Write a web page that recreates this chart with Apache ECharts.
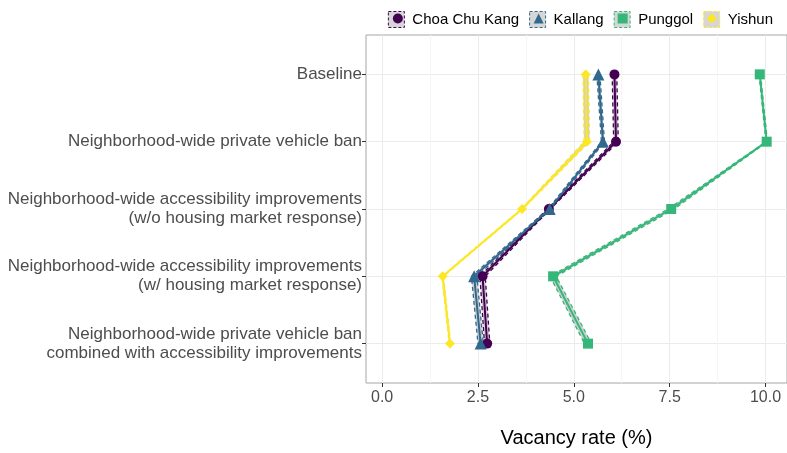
<!DOCTYPE html>
<html>
<head>
<meta charset="utf-8">
<script src="https://cdn.jsdelivr.net/npm/echarts@6/dist/echarts.min.js"></script>
<style>
  html, body { margin: 0; padding: 0; background: #ffffff; }
  #chart { width: 787px; height: 453px; }
</style>
</head>
<body>
<div id="chart"></div>
<script>
// Scenarios, top to bottom
const categories = [
  'Baseline',
  'Neighborhood-wide private vehicle ban',
  'Neighborhood-wide accessibility improvements\n(w/o housing market response)',
  'Neighborhood-wide accessibility improvements\n(w/ housing market response)',
  'Neighborhood-wide private vehicle ban\ncombined with accessibility improvements'
];

const towns = ['Choa Chu Kang', 'Kallang', 'Punggol', 'Yishun'];

// Vacancy rate (%) per scenario
const choaChuKang = [6.06, 6.10, 4.35, 2.62, 2.74];
const kallang     = [5.64, 5.76, 4.37, 2.40, 2.57];
const punggol     = [9.85, 10.03, 7.54, 4.46, 5.37];
const yishun      = [5.31, 5.34, 3.65, 1.58, 1.77];

// Half-width of the uncertainty band per scenario
const choaChuKangSpread = [0.06, 0.06, 0.04, 0.07, 0.07];
const kallangSpread     = [0.04, 0.04, 0.04, 0.07, 0.07];
const punggolSpread     = [0.02, 0.02, 0.08, 0.08, 0.09];
const yishunSpread      = [0.07, 0.07, 0.02, 0.02, 0.02];

const xTicks = [0, 2.5, 5, 7.5, 10];
const xMinorTicks = [1.25, 3.75, 6.25, 8.75];
const xTickLabels = ['0.0', '2.5', '5.0', '7.5', '10.0'];

const values = [choaChuKang, kallang, punggol, yishun];
const spreads = [choaChuKangSpread, kallangSpread, punggolSpread, yishunSpread];
const colors = ['#440154', '#31688E', '#35B779', '#FDE725'];
const symbols = ['circle', 'triangle', 'rect', 'diamond'];
const symbolSizes = [10, 12, 10, 10];

const font = '"Liberation Sans", Arial, sans-serif';
const bandFill = 'rgba(160,160,160,0.5)';

const series = [];

// bands first so the lines sit on top
towns.forEach((town, t) => {
  const lo = values[t].map((v, i) => v - spreads[t][i]);
  const hi = values[t].map((v, i) => v + spreads[t][i]);
  series.push({
    type: 'custom',
    name: town + ' band',
    silent: true,
    z: 1,
    data: [0],
    renderItem: function (params, api) {
      const pts = [];
      lo.forEach((v, i) => pts.push(api.coord([v, i])));
      for (let i = hi.length - 1; i >= 0; i--) pts.push(api.coord([hi[i], i]));
      return {
        type: 'polygon',
        shape: { points: pts },
        style: { fill: bandFill }
      };
    }
  });
  [lo, hi].forEach(edge => {
    series.push({
      type: 'line',
      name: town + ' edge',
      silent: true,
      z: 2,
      symbol: 'none',
      data: edge.map((v, i) => [v, i]),
      lineStyle: { color: colors[t], width: 1.3, type: [4, 3] },
      animation: false
    });
  });
});

towns.forEach((town, t) => {
  series.push({
    type: 'line',
    name: town,
    z: 3,
    symbol: symbols[t],
    symbolSize: symbolSizes[t],
    data: values[t].map((v, i) => [v, i]),
    itemStyle: { color: colors[t] },
    lineStyle: { color: colors[t], width: 2 },
    animation: false
  });
});

// Legend keys: a shaded box with a dashed outline, with the marker laid over it
const legendText = { fontSize: 15, fontFamily: font, padding: [0, 0, 0, 3] };
const legendBoxes = {
  selectedMode: false,
  top: 6,
  right: 9,
  itemWidth: 16,
  itemHeight: 16,
  itemGap: 10,
  textStyle: Object.assign({ color: '#000000' }, legendText),
  data: towns.map((n, t) => ({
    name: n,
    icon: 'rect',
    itemStyle: { color: '#d6d6d6', borderColor: colors[t], borderWidth: 1, borderType: [3, 2] }
  }))
};
const legendMarks = {
  selectedMode: false,
  top: 6,
  right: 6,
  itemWidth: 10,
  itemHeight: 10,
  itemGap: 10,
  textStyle: Object.assign({ color: 'rgba(0,0,0,0)' }, legendText, { padding: [0, 0, 0, 9] }),
  data: towns.map((n, t) => ({
    name: n,
    icon: symbols[t],
    itemStyle: { color: colors[t], borderWidth: 0 }
  }))
};

const chart = echarts.init(document.getElementById('chart'), null, { renderer: 'canvas' });
chart.setOption({
  animation: false,
  textStyle: { fontFamily: font },
  legend: [legendBoxes, legendMarks],
  grid: {
    left: 366,
    right: -1,
    top: 35,
    bottom: 69,
    show: true,
    borderColor: '#a6a6a6',
    borderWidth: 1,
    backgroundColor: 'transparent'
  },
  xAxis: [
    {
      type: 'value',
      min: -0.42,
      max: 10.56,
      name: 'Vacancy rate (%)',
      nameLocation: 'middle',
      nameGap: 45,
      nameTextStyle: { fontSize: 20, color: '#000000', fontFamily: font },
      axisLine: { show: false, onZero: false },
      axisTick: { show: true, length: 4, lineStyle: { color: '#333333' }, customValues: xTicks },
      axisLabel: {
        customValues: xTicks,
        fontSize: 16,
        color: '#4d4d4d',
        margin: 7,
        formatter: v => xTickLabels[xTicks.indexOf(+v.toFixed(2))] ?? v.toFixed(1)
      },
      splitLine: { show: true, lineStyle: { color: '#ebebeb', width: 1 } }
    },
    {
      type: 'value',
      min: -0.42,
      max: 10.56,
      position: 'bottom',
      axisLine: { show: false, onZero: false },
      axisTick: { show: false, customValues: xMinorTicks },
      axisLabel: { show: false, customValues: xMinorTicks },
      splitLine: { show: true, lineStyle: { color: '#f5f5f5', width: 1 } }
    }
  ],
  yAxis: {
    type: 'value',
    inverse: true,
    min: -0.585,
    max: 4.585,
    axisLine: { show: false, onZero: false },
    axisTick: { show: true, length: 4, lineStyle: { color: '#333333' }, customValues: [0, 1, 2, 3, 4] },
    axisLabel: {
      customValues: [0, 1, 2, 3, 4],
      fontSize: 17,
      lineHeight: 19,
      color: '#4d4d4d',
      align: 'right',
      margin: 4,
      formatter: v => categories[Math.round(v)] || ''
    },
    splitLine: { show: true, lineStyle: { color: '#ebebeb', width: 1 } }
  },
  series: series
});
</script>
</body>
</html>
